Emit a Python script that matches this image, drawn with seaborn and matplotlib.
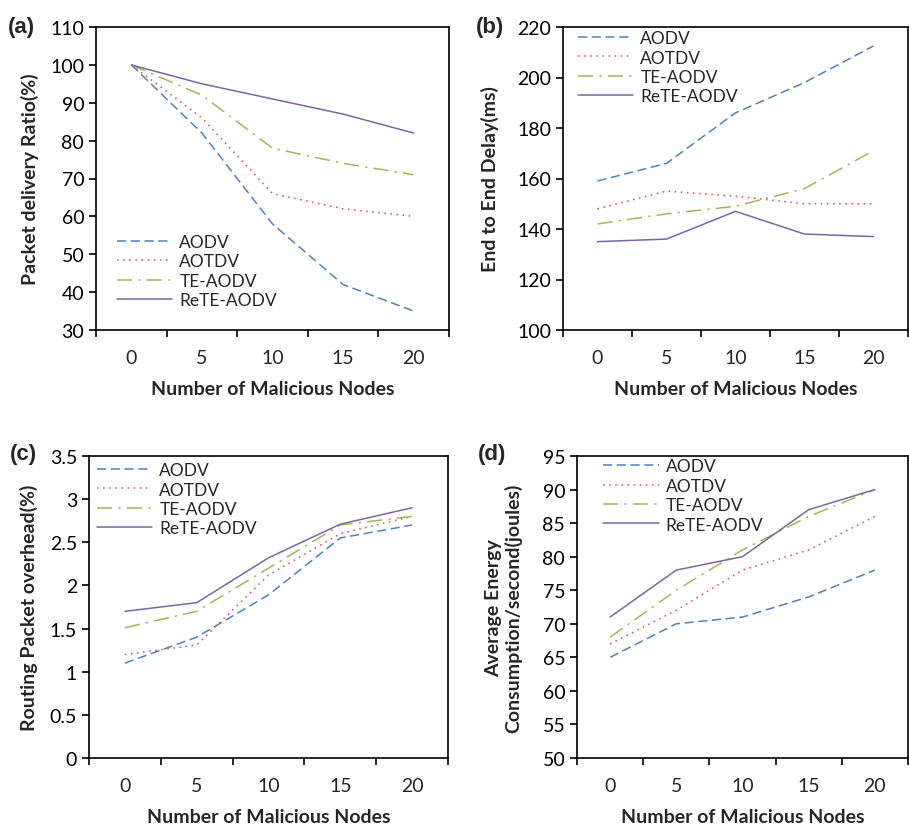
import pandas as pd
import numpy as np
import matplotlib.pyplot as plt
import seaborn as sns

# Data
nodes = [0, 5, 10, 15, 20]
protocols = ['AODV', 'AOTDV', 'TE-AODV', 'ReTE-AODV']

pdr_aodv = [100, 82, 58, 42, 35]
pdr_aotdv = [100, 86, 66, 62, 60]
pdr_teaodv = [100, 92, 78, 74, 71]
pdr_reteaodv = [100, 95, 91, 87, 82]

delay_aodv = [159, 166, 186, 198, 212.5]
delay_aotdv = [148, 155, 153, 150, 150]
delay_teaodv = [142, 146, 149, 156, 171]
delay_reteaodv = [135, 136, 147, 138, 137]

rpo_aodv = [1.1, 1.4, 1.89, 2.55, 2.7]
rpo_aotdv = [1.2, 1.31, 2.12, 2.6, 2.8]
rpo_teaodv = [1.51, 1.7, 2.2, 2.7, 2.8]
rpo_reteaodv = [1.7, 1.8, 2.32, 2.71, 2.9]

energy_aodv = [65, 70, 71, 74, 78]
energy_aotdv = [67, 72, 78, 81, 86]
energy_teaodv = [68, 75, 81, 86, 90]
energy_reteaodv = [71, 78, 80, 87, 90]

sns.set_style('ticks')
plt.rcParams['font.family'] = ['Lato', 'DejaVu Sans']

colors = {'AODV': '#4F81BD', 'AOTDV': '#E8484A', 'TE-AODV': '#9BBB59', 'ReTE-AODV': '#8064A2'}
dashes = {'AODV': (6, 3), 'AOTDV': (1, 3), 'TE-AODV': (10, 4, 1.5, 4), 'ReTE-AODV': ''}


def make_df(a, b, c, d):
    rows = []
    for name, vals in zip(protocols, [a, b, c, d]):
        for n, v in zip(nodes, vals):
            rows.append({'Nodes': n, 'Value': v, 'Protocol': name})
    return pd.DataFrame(rows)


# tag, data, y label, y range, y step, legend anchor (axes coords), y label x (axes coords)
panels = [
    ('(a)', make_df(pdr_aodv, pdr_aotdv, pdr_teaodv, pdr_reteaodv),
     'Packet delivery Ratio(%)', (30, 110), 10, (0.059, 0.317), -0.161),
    ('(b)', make_df(delay_aodv, delay_aotdv, delay_teaodv, delay_reteaodv),
     'End to End Delay(ms)', (100, 220), 20, (0.043, 0.99), -0.186),
    ('(c)', make_df(rpo_aodv, rpo_aotdv, rpo_teaodv, rpo_reteaodv),
     'Routing Packet overhead(%)', (0, 3.5), 0.5, (0.022, 0.98), -0.142),
    ('(d)', make_df(energy_aodv, energy_aotdv, energy_teaodv, energy_reteaodv),
     'Average Energy\nConsumption/second(joules)', (50, 95), 5, (0.079, 0.993), -0.166),
]

W, H = 909, 828
# axes boxes in pixels: left, right, top, bottom
boxes = [(96, 449, 28, 331), (563, 908, 28, 331), (89, 448, 457, 759), (577, 908, 457, 759)]
label_pos = [(8, 28), (476, 28), (10, 455), (478, 455)]

fig = plt.figure(figsize=(W / 100, H / 100), dpi=100)

for i, (tag, df, ylab, ylim, step, anchor, ylx) in enumerate(panels):
    l, r, t, b = boxes[i]
    ax = fig.add_axes([l / W, 1 - b / H, (r - l) / W, (b - t) / H])
    sns.lineplot(data=df, x='Nodes', y='Value', hue='Protocol', style='Protocol',
                 palette=colors, dashes=dashes, linewidth=1.1, ax=ax)
    ax.set_xlim(-2.5, 22.5)
    ax.set_ylim(*ylim)
    yt = np.arange(ylim[0], ylim[1] + step / 2, step)
    ax.set_yticks(yt)
    ax.set_yticklabels([f'{v:g}' for v in yt])
    # Excel-style category axis: tick marks between categories, labels centred
    ax.set_xticks([n - 2.5 for n in nodes] + [22.5])
    ax.set_xticklabels([])
    ax.set_xticks(nodes, minor=True)
    ax.set_xticklabels([str(n) for n in nodes], minor=True)
    ax.tick_params(axis='both', which='major', direction='out', length=5, width=1.2,
                   labelsize=14, colors='black')
    ax.tick_params(axis='x', which='minor', length=0, labelsize=14, pad=14)
    ax.set_xlabel('Number of Malicious Nodes', fontsize=14, fontweight='bold', labelpad=10)
    ax.set_ylabel(ylab, fontsize=14, fontweight='bold', linespacing=1.1)
    ax.yaxis.set_label_coords(ylx, 0.5)
    for s in ax.spines.values():
        s.set_visible(True)
        s.set_color('black')
        s.set_linewidth(1.2)
    ax.legend(loc='upper left', bbox_to_anchor=anchor, frameon=False, fontsize=12.5,
              handlelength=3.2, handletextpad=0.4, labelspacing=0.2,
              borderpad=0, borderaxespad=0)
    fig.text(label_pos[i][0] / W, 1 - label_pos[i][1] / H, tag, fontsize=16,
             fontweight='bold', family='Liberation Sans', va='center', ha='left')

plt.savefig('out.png', dpi=100)
